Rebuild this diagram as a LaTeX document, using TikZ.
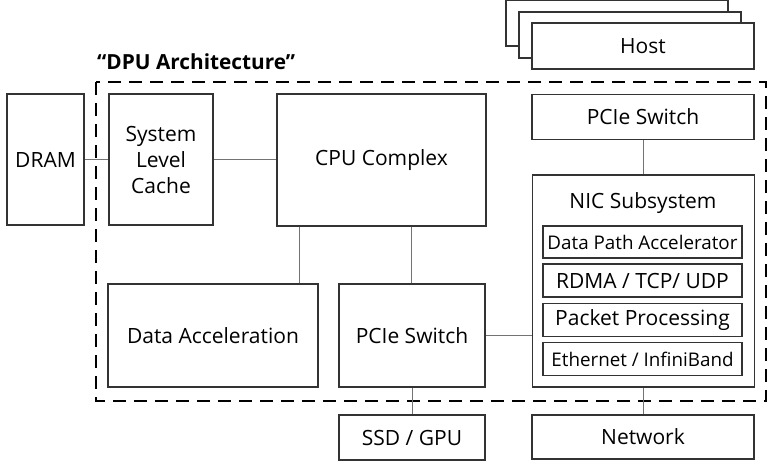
\documentclass[tikz,border=0pt]{standalone}
\usepackage{fontspec}
\setmainfont{Open Sans}
\begin{document}
\begin{tikzpicture}[x=1pt,y=-1pt,
  box/.style={draw=black!80,line width=1.6pt,fill=white,inner sep=0pt,align=center,font=\fontsize{21}{26}\selectfont},
  sub/.style={box,font=\fontsize{18.8}{22}\selectfont},
  link/.style={draw=black!55,line width=1pt},
  frame/.style={draw=black,line width=2.8pt,dash pattern=on 13pt off 8pt}]
\useasboundingbox (0,0) rectangle (768,464);
\draw[frame] (96,82) rectangle (766,401);
\node[anchor=base west,font=\bfseries\fontsize{20.8}{24}\selectfont,inner sep=0pt] (title) at (97,69) {“DPU Architecture”};
% host stack
\node[box,minimum width=222pt,minimum height=46pt] (h1) at (617,23) {};
\node[box,minimum width=222pt,minimum height=46pt] (h2) at (630,35) {};
\node[box,minimum width=222pt,minimum height=46pt] (host) at (643,46) {Host};
\node[box,minimum width=77pt,minimum height=131pt] (dram) at (45.5,159.5) {DRAM};
\node[box,minimum width=104pt,minimum height=131pt] (slc) at (161,159.5) {System\\Level\\Cache};
\node[box,minimum width=209pt,minimum height=132pt] (cpu) at (381.5,160) {CPU Complex};
\node[box,minimum width=222pt,minimum height=45pt] (pcie1) at (643,117) {PCIe Switch};
\node[box,minimum width=210pt,minimum height=103pt] (dacc) at (213,335.5) {Data Acceleration};
\node[box,minimum width=146pt,minimum height=103pt] (pcie2) at (412,335.5) {PCIe Switch};
\node[box,minimum width=146pt,minimum height=45pt] (ssd) at (412,437.5) {SSD / GPU};
\node[box,minimum width=222pt,minimum height=44pt] (net) at (643,437) {Network};
\node[box,minimum width=222pt,minimum height=212pt] (nic) at (643.5,281) {};
\node[box,draw=none,fill=none] (nict) at (643,203) {NIC Subsystem};
\node[sub,minimum width=199pt,minimum height=32pt] (dpa) at (642.5,242) {Data Path Accelerator};
\node[box,minimum width=199pt,minimum height=33pt] (rdma) at (642.5,280.5) {RDMA / TCP/ UDP};
\node[box,minimum width=199pt,minimum height=33pt] (pp) at (642.5,320) {Packet Processing};
\node[sub,minimum width=199pt,minimum height=33pt] (eth) at (642.5,359) {Ethernet / InfiniBand};
% links
\draw[link] (dram.east) -- (slc.west);
\draw[link] (slc.east) -- (slc.east -| cpu.west);
\draw[link] (cpu.south -| 299,0) -- (dacc.north -| 299,0);
\draw[link] (cpu.south -| 411,0) -- (pcie2.north -| 411,0);
\draw[link] (pcie2.east) -- (pcie2.east -| nic.west);
\draw[link] (pcie1.south) -- (pcie1.south |- nic.north);
\draw[link] (nic.south -| net.north) -- (net.north);
\draw[link] (pcie2.south) -- (ssd.north);
\end{tikzpicture}
\end{document}
